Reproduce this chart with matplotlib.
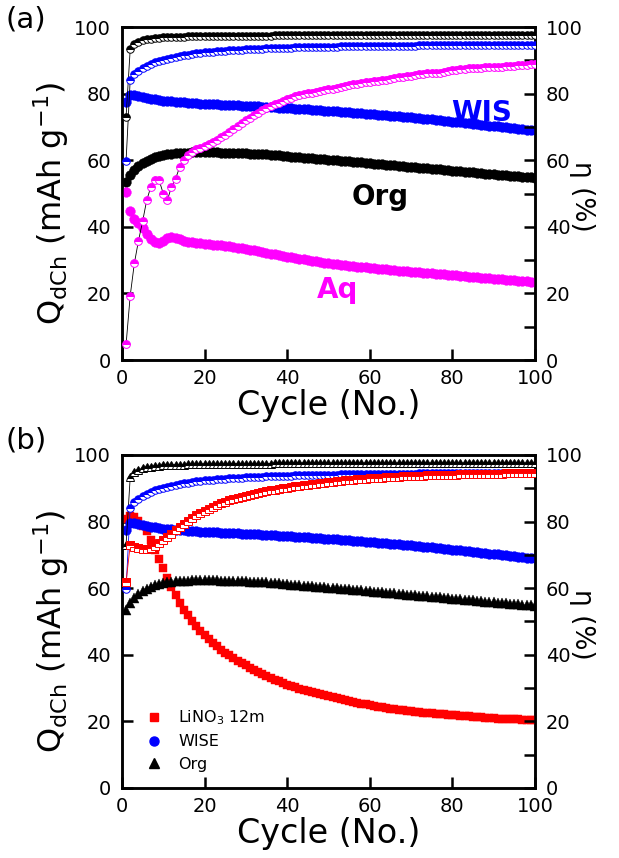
import matplotlib
matplotlib.use("Agg")
import matplotlib.pyplot as plt
from matplotlib.lines import Line2D

plt.rcParams['font.family'] = ['DejaVu Sans']
plt.rcParams['mathtext.fontset'] = 'dejavusans'

cycles = list(range(1, 101))

org_q = [53.5, 55.5, 57.0, 58.2, 59.1, 59.8, 60.4, 60.9, 61.3, 61.6,
         61.8, 62.0, 62.1, 62.2, 62.3, 62.3, 62.4, 62.4, 62.4, 62.4,
         62.4, 62.4, 62.4, 62.3, 62.3, 62.3, 62.2, 62.2, 62.1, 62.1,
         62.0, 62.0, 61.9, 61.9, 61.8, 61.7, 61.6, 61.5, 61.4, 61.2,
         61.1, 61.0, 60.9, 60.8, 60.7, 60.6, 60.5, 60.4, 60.3, 60.2,
         60.1, 60.0, 59.9, 59.8, 59.7, 59.6, 59.5, 59.4, 59.3, 59.2,
         59.0, 58.9, 58.8, 58.7, 58.6, 58.5, 58.4, 58.2, 58.1, 58.0,
         57.9, 57.8, 57.7, 57.6, 57.5, 57.4, 57.3, 57.1, 57.0, 56.9,
         56.8, 56.7, 56.6, 56.5, 56.4, 56.3, 56.2, 56.0, 55.9, 55.8,
         55.7, 55.6, 55.5, 55.4, 55.3, 55.2, 55.1, 55.0, 54.9, 54.8]

org_eta = [73.0, 93.3, 94.8, 95.5, 96.0, 96.3, 96.5, 96.7, 96.8, 96.9,
           97.0, 97.0, 97.1, 97.1, 97.1, 97.2, 97.2, 97.2, 97.2, 97.3,
           97.3, 97.3, 97.3, 97.3, 97.3, 97.4, 97.4, 97.4, 97.4, 97.4,
           97.4, 97.4, 97.4, 97.4, 97.4, 97.4, 97.5, 97.5, 97.5, 97.5,
           97.5, 97.5, 97.5, 97.5, 97.5, 97.5, 97.5, 97.5, 97.5, 97.5,
           97.5, 97.5, 97.5, 97.5, 97.5, 97.5, 97.5, 97.5, 97.5, 97.5,
           97.5, 97.5, 97.5, 97.5, 97.5, 97.5, 97.5, 97.5, 97.5, 97.5,
           97.5, 97.5, 97.5, 97.5, 97.5, 97.5, 97.5, 97.5, 97.5, 97.5,
           97.5, 97.5, 97.5, 97.5, 97.5, 97.5, 97.5, 97.5, 97.5, 97.5,
           97.5, 97.5, 97.5, 97.5, 97.5, 97.5, 97.5, 97.5, 97.5, 97.5]

wis_q = [77.5, 79.6, 79.6, 79.4, 79.1, 78.8, 78.5, 78.3, 78.1, 77.9,
         77.8, 77.7, 77.6, 77.5, 77.4, 77.3, 77.2, 77.1, 77.0, 76.9,
         76.9, 76.8, 76.8, 76.7, 76.7, 76.6, 76.5, 76.5, 76.4, 76.4,
         76.3, 76.2, 76.2, 76.1, 76.0, 76.0, 75.9, 75.8, 75.7, 75.7,
         75.6, 75.5, 75.4, 75.4, 75.3, 75.2, 75.1, 75.0, 74.9, 74.9,
         74.8, 74.7, 74.6, 74.5, 74.4, 74.3, 74.2, 74.1, 74.0, 73.9,
         73.8, 73.7, 73.6, 73.5, 73.4, 73.3, 73.2, 73.1, 73.0, 72.9,
         72.7, 72.6, 72.5, 72.4, 72.3, 72.1, 72.0, 71.9, 71.8, 71.6,
         71.5, 71.4, 71.2, 71.1, 71.0, 70.8, 70.7, 70.6, 70.4, 70.3,
         70.2, 70.0, 69.9, 69.8, 69.6, 69.5, 69.4, 69.2, 69.1, 69.0]

wis_eta = [59.8, 84.2, 85.8, 86.8, 87.6, 88.3, 88.9, 89.4, 89.8, 90.2,
           90.5, 90.8, 91.1, 91.3, 91.5, 91.7, 91.9, 92.1, 92.2, 92.4,
           92.5, 92.6, 92.7, 92.8, 92.9, 93.0, 93.1, 93.2, 93.2, 93.3,
           93.4, 93.4, 93.5, 93.5, 93.6, 93.6, 93.7, 93.7, 93.8, 93.8,
           93.8, 93.9, 93.9, 93.9, 94.0, 94.0, 94.0, 94.0, 94.1, 94.1,
           94.1, 94.1, 94.2, 94.2, 94.2, 94.2, 94.2, 94.3, 94.3, 94.3,
           94.3, 94.3, 94.3, 94.4, 94.4, 94.4, 94.4, 94.4, 94.4, 94.4,
           94.4, 94.5, 94.5, 94.5, 94.5, 94.5, 94.5, 94.5, 94.5, 94.5,
           94.5, 94.5, 94.5, 94.6, 94.6, 94.6, 94.6, 94.6, 94.6, 94.6,
           94.6, 94.6, 94.6, 94.6, 94.6, 94.6, 94.6, 94.6, 94.6, 94.6]

aq_q = [50.5, 44.8, 42.2, 41.0, 39.5, 37.8, 36.3, 35.3, 35.0, 35.6,
        36.5, 36.9, 36.6, 36.2, 35.8, 35.5, 35.3, 35.2, 35.0, 34.9,
        34.7, 34.6, 34.5, 34.4, 34.3, 34.1, 33.9, 33.7, 33.5, 33.3,
        33.1, 32.9, 32.6, 32.4, 32.2, 31.9, 31.7, 31.4, 31.2, 31.0,
        30.8, 30.6, 30.4, 30.2, 30.0, 29.8, 29.6, 29.4, 29.2, 29.0,
        28.9, 28.7, 28.6, 28.4, 28.3, 28.2, 28.0, 27.9, 27.8, 27.6,
        27.5, 27.4, 27.3, 27.2, 27.0, 26.9, 26.8, 26.7, 26.6, 26.5,
        26.4, 26.3, 26.2, 26.1, 26.0, 25.9, 25.8, 25.7, 25.6, 25.5,
        25.4, 25.3, 25.2, 25.0, 24.9, 24.8, 24.7, 24.6, 24.5, 24.4,
        24.3, 24.2, 24.1, 24.0, 23.9, 23.8, 23.7, 23.6, 23.5, 23.4]

aq_eta = [4.7, 19.3, 29.0, 35.8, 41.6, 48.0, 52.0, 54.0, 54.0, 50.0,
          48.0, 52.0, 54.5, 58.0, 60.0, 61.5, 62.5, 63.3, 63.8, 64.3,
          65.0, 65.5, 66.2, 66.9, 67.6, 68.4, 69.3, 70.2, 71.1, 72.0,
          72.8, 73.6, 74.3, 75.0, 75.6, 76.2, 76.8, 77.3, 77.8, 78.3,
          78.8, 79.2, 79.6, 79.9, 80.1, 80.3, 80.5, 80.8, 81.1, 81.3,
          81.5, 81.7, 81.9, 82.2, 82.5, 82.8, 83.0, 83.2, 83.4, 83.6,
          83.8, 83.9, 84.0, 84.1, 84.4, 84.7, 84.9, 85.1, 85.2, 85.4,
          85.6, 85.8, 86.0, 86.1, 86.2, 86.3, 86.3, 86.5, 86.8, 87.0,
          87.2, 87.3, 87.5, 87.6, 87.7, 87.8, 87.8, 87.9, 88.0, 88.0,
          88.0, 88.1, 88.2, 88.3, 88.4, 88.5, 88.6, 88.7, 88.8, 88.9]

lino3_q = [80.8, 81.8, 81.5, 80.3, 78.8, 77.2, 74.5, 71.5, 68.8, 66.0,
           63.0, 60.5, 58.0, 55.7, 53.6, 51.8, 50.2, 48.6, 47.2, 45.9,
           44.7, 43.6, 42.5, 41.5, 40.6, 39.8, 39.0, 38.2, 37.5, 36.8,
           36.1, 35.4, 34.8, 34.2, 33.6, 33.0, 32.5, 32.0, 31.5, 31.0,
           30.6, 30.2, 29.8, 29.4, 29.0, 28.7, 28.4, 28.1, 27.8, 27.5,
           27.2, 26.9, 26.6, 26.3, 26.1, 25.8, 25.6, 25.3, 25.1, 24.8,
           24.6, 24.4, 24.2, 24.0, 23.8, 23.6, 23.5, 23.3, 23.2, 23.0,
           22.9, 22.8, 22.6, 22.5, 22.4, 22.3, 22.2, 22.1, 22.0, 21.9,
           21.8, 21.7, 21.6, 21.5, 21.4, 21.3, 21.2, 21.1, 21.0, 20.9,
           20.8, 20.8, 20.7, 20.7, 20.6, 20.6, 20.5, 20.5, 20.4, 20.4]

lino3_eta = [61.8, 73.0, 72.5, 72.0, 71.8, 71.8, 72.2, 72.8, 73.6, 74.5,
             75.4, 76.4, 77.4, 78.4, 79.4, 80.3, 81.1, 81.9, 82.6, 83.3,
             83.9, 84.5, 85.0, 85.5, 86.0, 86.4, 86.8, 87.2, 87.5, 87.8,
             88.1, 88.4, 88.7, 88.9, 89.2, 89.4, 89.6, 89.8, 90.0, 90.2,
             90.4, 90.6, 90.8, 91.0, 91.1, 91.3, 91.4, 91.6, 91.7, 91.9,
             92.0, 92.1, 92.3, 92.4, 92.5, 92.6, 92.7, 92.8, 92.9, 93.0,
             93.1, 93.2, 93.2, 93.3, 93.4, 93.4, 93.5, 93.6, 93.6, 93.7,
             93.7, 93.8, 93.8, 93.9, 93.9, 94.0, 94.0, 94.0, 94.1, 94.1,
             94.1, 94.2, 94.2, 94.2, 94.3, 94.3, 94.3, 94.3, 94.4, 94.4,
             94.4, 94.4, 94.5, 94.5, 94.5, 94.5, 94.6, 94.6, 94.6, 94.6]

legend_labels = ['LiNO$_3$ 12m', 'WISE', 'Org']

BLUE = '#0000ff'
MAG = '#ff00ff'
RED = '#ff0000'
BLACK = '#000000'

fig = plt.figure(figsize=(6.19, 8.58), dpi=100)

TICK_FS = 14
LAB_FS = 23


def style_axes(ax, ax2):
    ax.set_xlim(0, 100)
    ax.set_ylim(0, 100)
    ax2.set_ylim(0, 100)
    ax.set_xticks([0, 20, 40, 60, 80, 100])
    ax.set_yticks([0, 20, 40, 60, 80, 100])
    ax2.set_yticks([0, 20, 40, 60, 80, 100])
    ax2.set_yticks([10, 30, 50, 70, 90], minor=True)
    for a in (ax, ax2):
        for s in a.spines.values():
            s.set_linewidth(1.8)
    ax.tick_params(axis='both', which='major', direction='in', length=8, width=1.8,
                   labelsize=TICK_FS, pad=6.5)
    ax.tick_params(axis='y', pad=8)
    ax2.tick_params(axis='y', which='major', direction='in', length=8, width=1.8,
                    labelsize=TICK_FS, pad=8)
    ax2.tick_params(axis='y', which='minor', direction='in', length=8, width=1.8)
    ax.set_xlabel('Cycle (No.)', fontsize=24)
    ax.xaxis.set_label_coords(0.5, -0.088)
    ax.set_ylabel('Q$_\\mathregular{dCh}$ (mAh g$^\\mathregular{-1}$)', fontsize=LAB_FS,
                  va='center')
    ax.yaxis.set_label_coords(-0.172, 0.47)
    ax2.set_ylabel('\u03b7 (%)', fontsize=19, rotation=270, va='center')
    ax2.yaxis.set_label_coords(1.114, 0.49)


def plot_eta(ax, y, color, marker, ms, linecolor):
    ax.plot(cycles, y, color=linecolor, lw=0.6, zorder=2)
    ax.plot(cycles, y, linestyle='none', marker=marker, ms=ms, color=color,
            fillstyle='top', markerfacecoloralt='white', markeredgecolor=color,
            markeredgewidth=0.7, zorder=3)


def plot_q(ax, y, color, marker, ms, label=None):
    return ax.plot(cycles, y, linestyle='none', marker=marker, ms=ms, color=color,
                   markeredgecolor=color, markeredgewidth=0.3, zorder=3, label=label)[0]


# ---------------- (a) ----------------
ax = fig.add_axes([0.197, 0.5804, 0.667, 0.3881])
ax2 = ax.twinx()
plot_eta(ax2, org_eta, BLACK, 'o', 5.4, BLACK)
plot_eta(ax2, wis_eta, BLUE, 'o', 5.4, BLACK)
plot_eta(ax2, aq_eta, MAG, 'o', 5.6, BLACK)
plot_q(ax, wis_q, BLUE, 'o', 7.0)
plot_q(ax, org_q, BLACK, 'o', 7.0)
plot_q(ax, aq_q, MAG, 'o', 7.0)
style_axes(ax, ax2)
ax.text(87, 74.2, 'WIS', color=BLUE, fontsize=20, fontweight='bold', ha='center', va='center')
ax.text(62.5, 49, 'Org', color=BLACK, fontsize=20, fontweight='bold', ha='center', va='center')
ax.text(52.3, 21, 'Aq', color=MAG, fontsize=20, fontweight='bold', ha='center', va='center')
fig.text(0.042, 0.977, '(a)', fontsize=21, ha='center', va='center')

# ---------------- (b) ----------------
bx = fig.add_axes([0.197, 0.0816, 0.667, 0.3881])
bx2 = bx.twinx()
plot_eta(bx2, org_eta, BLACK, '^', 6.4, BLACK)
plot_eta(bx2, wis_eta, BLUE, 'o', 5.4, BLUE)
plot_eta(bx2, lino3_eta, RED, 's', 5.4, RED)
plot_q(bx, lino3_q, RED, 's', 6.4)
plot_q(bx, wis_q, BLUE, 'o', 7.0)
plot_q(bx, org_q, BLACK, '^', 7.6)
style_axes(bx, bx2)
fig.text(0.042, 0.487, '(b)', fontsize=21, ha='center', va='center')

handles = [Line2D([], [], linestyle='none', marker='s', ms=6, color=RED),
           Line2D([], [], linestyle='none', marker='o', ms=6.5, color=BLUE),
           Line2D([], [], linestyle='none', marker='^', ms=7, color=BLACK)]
bx.legend(handles, legend_labels, loc='lower left', bbox_to_anchor=(0.043, 0.03),
          borderaxespad=0, frameon=False, fontsize=11.5, handlelength=1.0,
          handletextpad=1.0, labelspacing=0.45)

fig.savefig('out.png', dpi=100)
